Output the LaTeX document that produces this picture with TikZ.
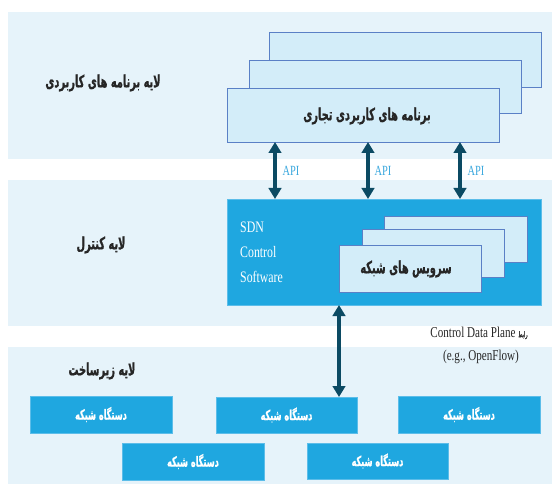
\documentclass[tikz,border=0pt]{standalone}
\usepackage{fontspec}
\setmainfont{Liberation Serif}
\newfontfamily\fa[Script=Arabic,FakeStretch=0.58,FakeBold=0.8]{DejaVu Sans}
\newfontfamily\cond[FakeStretch=0.74]{Liberation Serif}
\TeXXeTstate=1
\usetikzlibrary{arrows.meta}
\definecolor{bandc}{HTML}{E6F3FA}
\definecolor{appfill}{HTML}{D3EDF9}
\definecolor{appedge}{HTML}{5A80C6}
\definecolor{sdnblue}{HTML}{1FA7E0}
\definecolor{devedge}{HTML}{5CBDE9}
\definecolor{arrowc}{HTML}{0B4A63}
\definecolor{apic}{HTML}{3AA8DE}
\begin{document}
\begin{tikzpicture}[x=1pt,y=-1pt,
  box/.style={anchor=north west, inner sep=0pt, outer sep=0pt},
  band/.style={box, fill=bandc, draw=none},
  appbox/.style={box, fill=appfill, draw=appedge, line width=0.9pt},
  sdnbox/.style={box, fill=sdnblue, draw=devedge, line width=0.5pt},
  devbox/.style={box, fill=sdnblue, draw=devedge, line width=0.6pt, text=white,
    font=\fa\bfseries\fontsize{14}{16}\selectfont},
  fatext/.style={font=\fa\bfseries\fontsize{17}{19}\selectfont, text=black!85, inner sep=0pt},
  apilabel/.style={font=\cond\fontsize{14}{16}\selectfont, text=apic, inner sep=0pt},
  cdplabel/.style={font=\cond\fontsize{15}{17}\selectfont, text=black!85, inner sep=0pt},
  dbl/.style={draw=arrowc, line width=3.6pt,
    {Triangle[width=12.5pt,length=11pt]}-{Triangle[width=12.5pt,length=11pt]}}]
\useasboundingbox (0,0) rectangle (552,484);
\fill[white] (0,0) rectangle (552,484);
% layer bands
\node[band, minimum width=544pt, minimum height=147pt] (L1) at (8,12) {};
\node[band, minimum width=544pt, minimum height=146pt] (L2) at (8,180) {};
\node[band, minimum width=544pt, minimum height=137pt] (L3) at (8,347) {};
% layer labels
\node[fatext] (t1) at (103,83) {\beginR لایه برنامه های کاربردی\endR};
\node[fatext] (t2) at (101,245) {\beginR لایه کنترل\endR};
\node[fatext] (t3) at (102,371) {\beginR لایه زیرساخت\endR};
% application boxes
\node[appbox, minimum width=272pt, minimum height=55pt] (app3) at (269,32) {};
\node[appbox, minimum width=272pt, minimum height=53pt] (app2) at (249,60) {};
\node[appbox, minimum width=272pt, minimum height=54pt] (app1) at (227,88) {};
\node[fatext] (apptext) at (367,116) {\beginR برنامه های کاربردی تجاری\endR};
% SDN controller
\node[sdnbox, minimum width=314pt, minimum height=106pt] (sdn) at (227,199) {};
\node[anchor=west, align=left, inner sep=0pt, text=white,
  font=\cond\fontsize{16}{25}\selectfont] (sdntext) at (240,252) {SDN\\Control\\Software};
\node[appbox, minimum width=143pt, minimum height=46pt] (srv3) at (384,216) {};
\node[appbox, minimum width=142pt, minimum height=48pt] (srv2) at (362,229) {};
\node[appbox, minimum width=142pt, minimum height=47pt] (srv1) at (339,245) {};
\node[fatext] (srvtext) at (406,269) {\beginR سرویس های شبکه\endR};
% network devices
\node[devbox, minimum width=142pt, minimum height=37pt] (dev1) at (30,396) {\beginR دستگاه شبکه\endR};
\node[devbox, minimum width=141pt, minimum height=36pt] (dev2) at (216,397) {\beginR دستگاه شبکه\endR};
\node[devbox, minimum width=142pt, minimum height=37pt] (dev3) at (398,396) {\beginR دستگاه شبکه\endR};
\node[devbox, minimum width=142pt, minimum height=37pt] (dev4) at (122,443) {\beginR دستگاه شبکه\endR};
\node[devbox, minimum width=141pt, minimum height=36pt] (dev5) at (307,443) {\beginR دستگاه شبکه\endR};
% API arrows
\coordinate (a1) at (275,0);
\coordinate (a2) at (368,0);
\coordinate (a3) at (460,0);
\coordinate (a4) at (339,0);
\draw[dbl] (app1.south -| a1) -- (sdn.north -| a1);
\draw[dbl] (app1.south -| a2) -- (sdn.north -| a2);
\draw[dbl] (app1.south -| a3) -- (sdn.north -| a3);
\node[apilabel] (api1) at (291,171) {API};
\node[apilabel] (api2) at (383,171) {API};
\node[apilabel] (api3) at (476,171) {API};
% control data plane
\draw[dbl] (sdn.south -| a4) -- (dev2.north -| a4);
\node[cdplabel] (cdp1) at (479,333) {Control Data Plane {\fa\fontsize{8}{9}\selectfont\beginR رابط\endR}};
\node[cdplabel] (cdp2) at (481,357) {(e.g., OpenFlow)};
\end{tikzpicture}
\end{document}
